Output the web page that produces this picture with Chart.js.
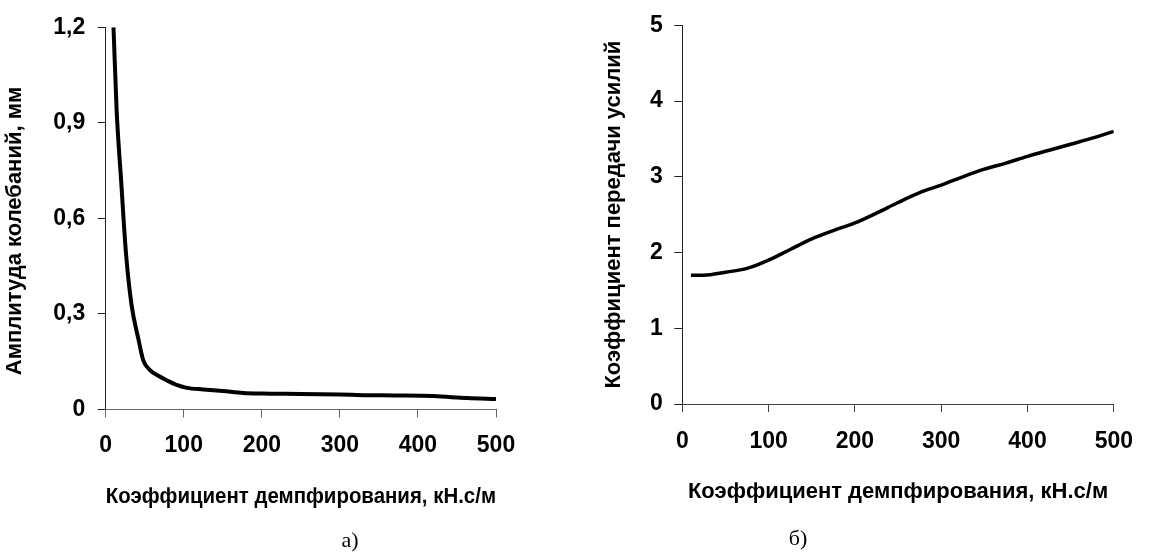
<!DOCTYPE html>
<html><head><meta charset="utf-8">
<script src="https://cdn.jsdelivr.net/npm/chart.js@4/dist/chart.umd.min.js"></script>
<style>
html,body{margin:0;padding:0;background:#fff;width:1149px;height:552px;overflow:hidden}
.box{position:absolute;top:0;height:552px}
#boxA{left:0;width:575px}
#boxB{left:575px;width:574px}
.cap{position:absolute;font-family:'Liberation Serif','Times New Roman',serif;font-size:22px;color:#000;transform:translateX(-50%);line-height:1}
</style></head><body>
<div class="box" id="boxA"><canvas id="a"></canvas></div>
<div class="box" id="boxB"><canvas id="b"></canvas></div>
<div class="cap" style="left:350px;top:529px">а)</div>
<div class="cap" style="left:798px;top:527px">б)</div>
<script>
// ---- data ----
const dampingA   = [10, 14, 20, 26, 33, 42, 48, 57, 68, 78, 90, 104, 125, 150, 176, 200, 250, 300, 330, 370, 420, 463, 500];
const amplitudeA = [1.20, 0.94, 0.71, 0.49, 0.33, 0.22, 0.155, 0.123, 0.105, 0.092, 0.078, 0.068, 0.063, 0.058, 0.052, 0.050, 0.049, 0.047, 0.045, 0.044, 0.042, 0.036, 0.033];
const dampingB   = [10, 25, 50, 75, 100, 125, 150, 175, 200, 225, 250, 275, 300, 325, 350, 375, 400, 425, 450, 475, 500];
const transferB  = [1.70, 1.70, 1.74, 1.79, 1.90, 2.04, 2.18, 2.29, 2.39, 2.52, 2.66, 2.79, 2.89, 3.00, 3.10, 3.18, 3.27, 3.35, 3.43, 3.51, 3.60];
const xTickLabels  = ['0', '100', '200', '300', '400', '500'];
const yTickLabelsA = ['0', '0,3', '0,6', '0,9', '1,2'];
const yTickLabelsB = ['0', '1', '2', '3', '4', '5'];
const xTitle  = 'Коэффициент демпфирования, кН.с/м';
const yTitleA = 'Амплитуда колебаний, мм';
const yTitleB = 'Коэффициент передачи усилий';

Chart.defaults.font.family = "'Liberation Sans', Arial, sans-serif";
Chart.defaults.color = '#000';

const tickFont = {size: 23, weight: 'bold'};
const titleFont = {size: 22, weight: 'bold'};

function toPoints(xs, ys){ return xs.map((x, i) => ({x: x, y: ys[i]})); }

const yTitleAPlugin = {
  id: 'yTitleA',
  afterDraw(chart){
    const ctx = chart.ctx;
    ctx.save();
    ctx.translate(14.5, 231);
    ctx.rotate(-Math.PI / 2);
    ctx.font = 'bold 22px "Liberation Sans", Arial, sans-serif';
    ctx.fillStyle = '#000';
    ctx.textAlign = 'center';
    ctx.textBaseline = 'middle';
    ctx.fillText(yTitleA, 0, 0);
    ctx.restore();
  }
};

new Chart(document.getElementById('a'), {
  type: 'line',
  data: {datasets: [{
    data: toPoints(dampingA, amplitudeA),
    borderColor: '#000', borderWidth: 4, pointRadius: 0,
    cubicInterpolationMode: 'monotone', fill: false
  }]},
  plugins: [yTitleAPlugin],
  options: {
    responsive: true, maintainAspectRatio: false, animation: false,
    layout: {padding: {left: 0, top: 27.3, right: 79, bottom: 0}},
    plugins: {legend: {display: false}, tooltip: {enabled: false}},
    scales: {
      x: {
        type: 'linear', min: 0, max: 500,
        afterFit: s => { s.height = 142.5; },
        border: {display: true, color: '#666', width: 1},
        grid: {drawOnChartArea: false, drawTicks: true, tickLength: 8, color: '#666'},
        ticks: {stepSize: 100, autoSkip: false, maxRotation: 0, padding: 14.5, font: tickFont,
                callback: (v, i) => xTickLabels[i]},
        title: {display: true, text: xTitle, font: titleFont, color: '#000', padding: {top: 0, bottom: 42}}
      },
      y: {
        type: 'linear', min: 0, max: 1.2,
        afterFit: s => { s.width = 105.7; },
        border: {display: true, color: '#222', width: 1},
        grid: {drawOnChartArea: false, drawTicks: true, tickLength: 8, color: '#222'},
        ticks: {stepSize: 0.3, autoSkip: false, padding: 12.5, font: tickFont,
                callback: (v, i) => yTickLabelsA[i]},
        title: {display: false}
      }
    }
  }
});

new Chart(document.getElementById('b'), {
  type: 'line',
  data: {datasets: [{
    data: toPoints(dampingB, transferB),
    borderColor: '#000', borderWidth: 3.5, pointRadius: 0,
    cubicInterpolationMode: 'monotone', fill: false
  }]},
  options: {
    responsive: true, maintainAspectRatio: false, animation: false,
    layout: {padding: {left: 0, top: 22.7, right: 26.3, bottom: 0}},
    plugins: {legend: {display: false}, tooltip: {enabled: false}},
    scales: {
      x: {
        type: 'linear', min: 0, max: 500,
        afterFit: s => { s.height = 148; },
        border: {display: true, color: '#444', width: 1},
        grid: {drawOnChartArea: false, drawTicks: true, tickLength: 8, color: '#444'},
        ticks: {stepSize: 100, autoSkip: false, maxRotation: 0, padding: 16, font: tickFont,
                callback: (v, i) => xTickLabels[i]},
        title: {display: true, text: xTitle, font: titleFont, color: '#000', padding: {top: 0, bottom: 47}}
      },
      y: {
        type: 'linear', min: 0, max: 5,
        afterFit: s => { s.width = 107.3; },
        border: {display: true, color: '#222', width: 1},
        grid: {drawOnChartArea: false, drawTicks: true, tickLength: 8, color: '#222'},
        ticks: {stepSize: 1, autoSkip: false, padding: 11.5, font: tickFont,
                callback: (v, i) => yTickLabelsB[i]},
        title: {display: true, text: yTitleB, font: titleFont, color: '#000', padding: {top: 25.5, bottom: 0}}
      }
    }
  }
});
</script>
</body></html>
